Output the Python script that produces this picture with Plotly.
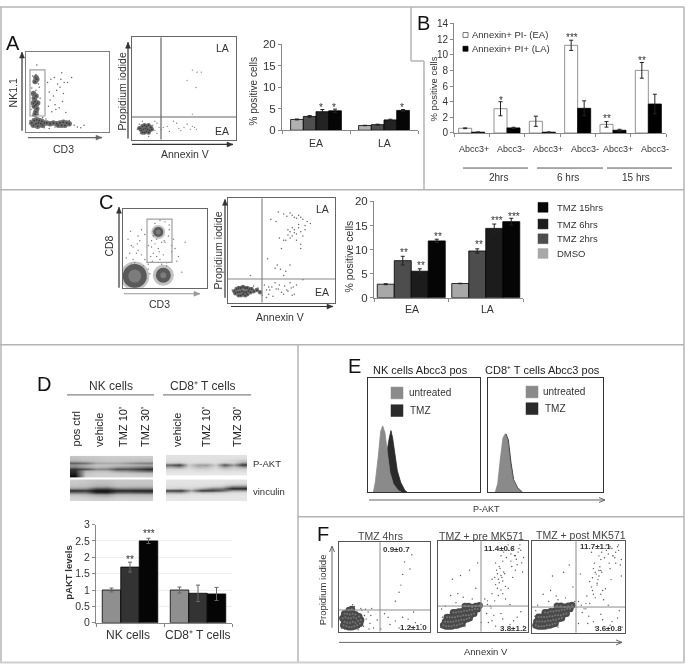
import plotly.graph_objects as go

W, H = 686, 670
FONT = "Liberation Sans"
INK = "#333333"
EDGE = "#b4b4b4"

# ---------- bar data ----------
a_groups = ["EA", "LA"]
a_vals = [[2.5, 1.1], [3.2, 1.3], [4.3, 2.4], [4.5, 4.6]]
a_errs = [[0.1, 0.05], [0.2, 0.1], [0.5, 0.15], [0.4, 0.2]]

b_groups = ["Abcc3+", "Abcc3-", "Abcc3+", "Abcc3-", "Abcc3+", "Abcc3-"]
b_ea = [0.6, 3.1, 1.5, 11.2, 1.1, 8.0]
b_la = [0.1, 0.65, 0.1, 3.15, 0.35, 3.7]
b_ea_err = [0.05, 0.9, 0.65, 0.65, 0.35, 1.0]
b_la_err = [0.03, 0.08, 0.03, 0.95, 0.12, 1.25]

c_groups = ["EA", "LA"]
c_names = ["DMSO", "TMZ 2hrs", "TMZ 6hrs", "TMZ 15hrs"]
c_vals = [[2.8, 2.95], [7.7, 9.7], [5.5, 14.4], [11.8, 15.8]]
c_errs = [[0.1, 0.05], [0.9, 0.45], [0.5, 0.9], [0.35, 0.7]]

d_groups = ["NK cells", "CD8⁺ T cells"]
d_vals = [[1.0, 1.0], [1.7, 0.9], [2.5, 0.88]]
d_errs = [[0.06, 0.09], [0.15, 0.25], [0.08, 0.2]]

# ---------- histogram data ----------
e1_un_x = [4.8, 6.5, 9.2, 11.3, 13.1, 15.2, 17.3, 19.6, 22.6, 27.1, 30]
e1_un_y = [0, 8.6, 31.7, 53.3, 58.2, 51.9, 34.6, 17.3, 7.2, 1.4, 0]
e1_tm_x = [13, 15.2, 17.3, 19, 20.5, 22, 24.1, 26.2, 29.2, 33, 35.1]
e1_tm_y = [0, 22, 37.5, 47.5, 54, 47.5, 31.7, 18.7, 8.6, 1.4, 0]
e2_un_x = [6.3, 8.4, 10.7, 13, 15, 17, 19.3, 21.6, 25, 29.4]
e2_un_y = [0, 7.2, 28.8, 47.6, 51.3, 46.1, 25.9, 11.5, 4.3, 0]
e2_tm_x = [7, 9.1, 11.4, 13.7, 15.7, 17.7, 20, 22.3, 25.7, 30]
e2_tm_y = [0, 7, 28.5, 47, 51, 46, 26, 11, 4, 0]

# ---------- flow cytometry events, percent of plot width / height ----------
a1_core_x = [7, 10, 13, 16, 19, 12, 15, 18, 22, 9, 14, 20, 25, 29, 33, 37, 41, 45, 49, 52, 43, 47, 39, 11, 12, 13, 10, 12, 9, 11, 14, 10, 12, 9, 11, 13, 12]
a1_core_y = [11, 14, 15, 14, 13, 10, 11, 10, 11, 8, 7, 8, 11, 10, 11, 10, 11, 12, 11, 10, 8, 8, 8, 22, 25, 29, 32, 34, 36, 38, 36, 42, 45, 48, 63, 66, 68]
a1_x = [8, 10, 13, 15, 7, 12, 16, 9, 14, 11, 8, 17, 13, 6, 10, 15, 12, 9, 26, 30, 34, 38, 42, 46, 28, 33, 37, 41, 45, 50, 29, 35, 40, 44, 31, 36, 27, 48, 55, 70, 43, 5, 18, 22, 28, 35, 52, 58, 62, 66, 20, 24, 13, 8]
a1_y = [70, 64, 68, 60, 55, 52, 56, 48, 44, 40, 36, 42, 30, 28, 25, 22, 72, 62, 62, 66, 68, 60, 66, 62, 50, 45, 52, 56, 48, 62, 40, 34, 30, 38, 25, 28, 32, 24, 68, 8, 74, 14, 6, 5, 4, 6, 14, 8, 6, 5, 18, 16, 84, 20]

a2_core_x = [8, 10, 12, 14, 16, 18, 9, 11, 13, 15, 17, 10, 12, 14, 16, 19, 7]
a2_core_y = [11, 13, 14, 13, 14, 12, 9, 10, 11, 10, 9, 7, 7, 8, 7, 10, 11]
a2_x = [5, 7, 8, 20, 22, 24, 26, 28, 24, 30, 34, 36, 40, 43, 45, 47, 50, 53, 56, 58, 60, 62, 58, 62.6, 66.6, 53, 61.5, 58, 22, 16, 10]
a2_y = [10, 15, 6, 14, 9, 16, 12, 10, 6, 12, 13, 8, 18, 16, 11, 9, 12, 15, 10, 13, 12, 10, 68, 66, 66, 58, 51, 25, 18, 3, 18]

c1_halo_x = [14, 48, 42]
c1_halo_y = [15, 16, 71]
c1_halo_n = [29, 21, 14]
c1_core_x = [14, 48, 42]
c1_core_y = [15, 16, 71]
c1_core_n = [24, 15, 10]
c1_mid_x = [14, 48, 42]
c1_mid_y = [15, 16, 71]
c1_mid_n = [13, 6, 5]
c1_x = [4, 8, 12, 18, 22, 26, 30, 30, 34, 36, 38, 55, 60, 62, 64, 28, 32, 6, 10, 20, 24, 12, 16, 9, 17, 36, 40, 44, 48, 52, 58, 34, 38, 42, 46, 50, 54, 36, 44, 50, 55, 40, 46, 33, 52, 30, 26, 22, 18, 14, 10, 6, 58, 66, 70, 74, 35, 43, 49]
c1_y = [38, 44, 52, 48, 42, 36, 30, 54, 60, 72, 82, 74, 62, 50, 34, 12, 18, 62, 30, 60, 28, 36, 44, 72, 56, 44, 40, 36, 42, 32, 46, 52, 56, 50, 30, 58, 66, 66, 86, 84, 80, 62, 58, 40, 28, 24, 68, 74, 66, 32, 54, 26, 54, 40, 20, 58, 34, 46, 60]

c2_core_x = [6, 8, 10, 12, 14, 16, 18, 20, 22, 7, 9, 11, 13, 15, 17, 19, 21, 24, 10, 12, 14, 16, 18, 27, 30]
c2_core_y = [11, 13, 14, 14, 15, 14, 14, 13, 13, 9, 10, 10, 11, 10, 10, 11, 10, 11, 7, 7, 8, 7, 8, 12, 10]
c2_x = [4, 6, 24, 28, 30, 32, 34, 36, 38, 41, 44, 47, 50, 53, 56, 59, 62, 64, 36, 42, 48, 55, 60, 39, 45, 52, 58, 61, 21, 38, 47, 52, 55, 58, 60, 62, 64, 66, 68, 70, 54, 56, 58, 60, 62, 64, 66, 68, 56, 58, 60, 62, 64, 66, 72, 74, 77, 72, 70, 68, 40, 45, 48, 52, 50, 46, 44, 49, 54, 52, 58, 68, 70, 37]
c2_y = [12, 8, 16, 14, 10, 7, 17, 12, 8, 15, 19, 13, 10, 16, 11, 14, 8, 17, 5, 6, 17, 12, 7, 12, 13, 8, 19, 15, 26, 15, 87, 85, 83, 86, 84, 82, 81, 84, 82, 80, 60, 65, 68, 64, 70, 66, 72, 68, 70, 62, 72, 67, 60, 75, 74, 78, 76, 70, 64, 56, 80, 78, 62, 60, 52, 36, 33, 32, 30, 26, 36, 52, 22, 42]

f1_core_x = [5, 8, 11, 14, 17, 20, 23, 6, 9, 12, 15, 18, 21, 24, 4, 7, 10, 13, 16, 19, 22, 6, 9, 12, 15, 18, 11, 14]
f1_core_y = [7, 6, 5, 5, 6, 7, 9, 11, 10, 10, 11, 10, 12, 13, 15, 16, 15, 15, 16, 15, 17, 20, 20, 19, 20, 19, 24, 25]
f1_x = [3, 5, 7, 4, 27, 30, 32, 34, 28, 36, 38, 42, 50, 56, 62, 70, 78, 84, 90, 46, 54, 66, 76, 82, 72, 80, 70, 68, 66, 78, 62, 24, 17, 10, 25, 33, 2, 6, 29, 35, 21, 15]
f1_y = [4, 20, 24, 8, 6, 14, 22, 9, 18, 26, 4, 13, 20, 8, 12, 16, 6, 10, 8, 3, 16, 4, 14, 22, 78, 86, 64, 52, 44, 70, 34, 26, 28, 26, 24, 3, 14, 3, 25, 18, 2, 30]

f2_core_x = [6, 9, 12, 15, 18, 21, 24, 27, 8, 11, 14, 17, 20, 23, 26, 29, 32, 35, 10, 13, 16, 19, 22, 25, 28, 31, 34, 37, 40, 17, 20, 23, 26, 29, 32, 35, 38, 41, 44, 30, 34, 38, 42, 46]
f2_core_y = [7, 6, 6, 6, 7, 7, 8, 9, 11, 11, 11, 11, 12, 12, 13, 13, 14, 15, 16, 16, 16, 16, 17, 17, 18, 18, 18, 19, 20, 21, 21, 22, 22, 23, 23, 24, 24, 25, 25, 28, 28, 27, 28, 29]
f2_x = [3, 5, 8, 4, 52, 55, 58, 60, 63, 66, 54, 59, 62, 64, 67, 70, 60, 63, 66, 68, 71, 73, 65, 68, 70, 72, 74, 64, 67, 69, 72, 75, 70, 73, 76, 78, 81, 83, 86, 89, 92, 95, 78, 81, 84, 87, 90, 93, 82, 85, 88, 91, 94, 72, 75, 78, 80, 83, 86, 20, 30, 16, 25, 35, 44, 56, 64, 72, 80, 88, 95, 60, 70, 84, 92, 55, 48, 38, 28, 14, 22, 42, 48, 18, 30]
f2_y = [5, 16, 28, 25, 36, 30, 28, 42, 34, 48, 20, 26, 18, 52, 40, 46, 58, 60, 64, 54, 60, 66, 68, 72, 62, 56, 64, 76, 58, 70, 78, 50, 84, 88, 82, 90, 86, 92, 84, 88, 90, 82, 96, 78, 94, 80, 92, 76, 72, 84, 74, 96, 66, 42, 36, 48, 30, 60, 68, 32, 30, 58, 62, 68, 76, 10, 6, 14, 8, 16, 6, 12, 20, 12, 22, 34, 30, 36, 38, 40, 42, 48, 10, 4, 6]

f3_core_x = [4, 7, 10, 13, 16, 19, 22, 25, 5, 8, 11, 14, 17, 20, 23, 26, 29, 32, 7, 10, 13, 16, 19, 22, 25, 28, 31, 34, 37, 14, 17, 20, 23, 26, 29, 32, 35, 38, 41, 27, 31, 35, 39, 43]
f3_core_y = [8, 7, 7, 7, 8, 8, 9, 10, 12, 12, 12, 12, 13, 13, 14, 14, 15, 16, 17, 17, 17, 17, 18, 18, 19, 19, 19, 20, 21, 22, 22, 23, 23, 24, 24, 25, 25, 26, 26, 29, 29, 28, 29, 30]
f3_x = [2, 3, 6, 4, 50, 53, 56, 59, 62, 65, 54, 58, 61, 64, 66, 68, 62, 65, 68, 70, 72, 74, 66, 69, 71, 73, 75, 67, 70, 72, 74, 76, 72, 75, 78, 80, 82, 84, 87, 90, 93, 96, 80, 83, 86, 89, 92, 95, 84, 87, 90, 93, 96, 74, 77, 79, 82, 85, 64, 18, 28, 22, 34, 40, 52, 60, 68, 76, 84, 92, 97, 66, 74, 86, 94, 58, 46, 36, 26, 12, 20, 44, 50, 16, 28]
f3_y = [6, 18, 30, 24, 34, 30, 26, 40, 32, 46, 22, 26, 18, 50, 42, 38, 56, 60, 66, 54, 62, 68, 70, 64, 58, 72, 66, 76, 52, 68, 80, 46, 84, 88, 82, 90, 86, 94, 84, 88, 90, 80, 96, 76, 92, 82, 94, 74, 70, 84, 76, 96, 62, 42, 36, 48, 30, 58, 88, 34, 36, 62, 66, 74, 64, 10, 6, 14, 8, 16, 6, 12, 20, 12, 24, 32, 34, 38, 40, 42, 46, 50, 10, 4, 6]

# ---------- blots, grey levels (0 black, 255 white) ----------
blot_pakt_left = [
    [195, 200, 200, 205, 205, 205, 205, 205],
    [190, 195, 198, 200, 200, 198, 196, 195],
    [175, 185, 195, 198, 198, 195, 190, 190],
    [95, 115, 165, 170, 170, 155, 135, 130],
    [150, 170, 195, 195, 190, 185, 175, 170],
    [130, 165, 185, 180, 160, 150, 135, 120],
    [55, 80, 135, 130, 80, 80, 65, 45],
    [45, 180, 190, 190, 155, 150, 125, 105],
    [35, 195, 205, 205, 200, 195, 190, 185],
    [20, 200, 208, 208, 208, 208, 205, 205],
    [8, 205, 210, 210, 210, 210, 210, 210],
]
blot_vinc_left = [
    [205, 200, 195, 195, 200, 200, 200, 200],
    [200, 198, 192, 190, 198, 198, 198, 198],
    [198, 195, 185, 185, 195, 195, 195, 195],
    [190, 185, 165, 160, 185, 182, 180, 180],
    [150, 145, 85, 80, 125, 130, 125, 125],
    [40, 50, 15, 15, 35, 35, 30, 30],
    [120, 120, 50, 45, 100, 105, 95, 90],
    [190, 185, 165, 160, 185, 185, 185, 182],
    [205, 200, 190, 185, 200, 200, 198, 198],
    [212, 210, 205, 205, 210, 210, 208, 208],
    [215, 212, 208, 208, 212, 212, 210, 210],
]
blot_pakt_right = [
    [225, 225, 225, 225, 225, 225, 225, 228, 225],
    [225, 225, 225, 225, 225, 225, 225, 225, 222],
    [222, 222, 224, 226, 224, 224, 220, 215, 205],
    [215, 212, 222, 220, 218, 222, 212, 215, 180],
    [170, 150, 215, 195, 190, 215, 150, 190, 95],
    [105, 70, 205, 165, 160, 205, 90, 160, 70],
    [170, 150, 215, 185, 190, 215, 165, 200, 165],
    [215, 212, 222, 212, 210, 222, 205, 212, 210],
    [225, 225, 228, 222, 222, 228, 222, 225, 222],
    [230, 230, 230, 230, 230, 230, 230, 230, 230],
    [232, 232, 232, 232, 232, 232, 232, 232, 232],
]
blot_vinc_right = [
    [228, 228, 228, 228, 228, 228, 226, 226],
    [226, 226, 226, 226, 226, 226, 222, 222],
    [225, 225, 225, 225, 222, 220, 205, 200],
    [222, 222, 222, 218, 205, 195, 130, 125],
    [205, 195, 210, 170, 125, 120, 35, 35],
    [60, 50, 160, 55, 60, 95, 165, 165],
    [170, 165, 215, 195, 200, 212, 222, 222],
    [222, 222, 226, 226, 226, 226, 228, 228],
    [228, 228, 230, 230, 230, 230, 230, 230],
    [230, 230, 230, 230, 230, 230, 230, 230],
    [230, 230, 230, 230, 230, 230, 230, 230],
]

fig = go.Figure()
layout = {}
shapes = []
annots = []
ax_n = [0]


def px(x):
    return x / W


def py(y):
    return 1 - y / H


def axes(x0, x1, y0, y1, xkw=None, ykw=None):
    ax_n[0] += 1
    i = ax_n[0]
    xk = dict(domain=[px(x0), px(x1)], anchor=f"y{i}", showgrid=False, zeroline=False)
    yk = dict(domain=[py(y1), py(y0)], anchor=f"x{i}", showgrid=False, zeroline=False)
    xk.update(xkw or {})
    yk.update(ykw or {})
    layout[f"xaxis{i}"] = xk
    layout[f"yaxis{i}"] = yk
    return f"x{i}", f"y{i}"


def text(x, y, t, size=10, color=INK, angle=0, anchor="center", bold=False):
    annots.append(dict(xref="paper", yref="paper", x=px(x), y=py(y), text=f"<b>{t}</b>" if bold else t,
                       showarrow=False, font=dict(size=size, color=color, family=FONT), textangle=angle,
                       xanchor=anchor, yanchor="middle"))


def line(x0, y0, x1, y1, color=EDGE, width=1.5):
    shapes.append(dict(type="line", xref="paper", yref="paper", x0=px(x0), y0=py(y0), x1=px(x1), y1=py(y1),
                       line=dict(color=color, width=width)))


def rect(x0, y0, x1, y1, fill="rgba(0,0,0,0)", color="#444444", width=1):
    shapes.append(dict(type="rect", xref="paper", yref="paper", x0=px(x0), y0=py(y0), x1=px(x1), y1=py(y1),
                       fillcolor=fill, line=dict(color=color, width=width)))


def arrow(x0, y0, x1, y1, color="#333333", width=1.2, filled=True):
    line(x0, y0, x1, y1, color, width)
    dx = 1 if x1 > x0 else (-1 if x1 < x0 else 0)
    dy = 1 if y1 > y0 else (-1 if y1 < y0 else 0)
    a = (x1 - 6 * dx + 2.5 * dy, y1 - 6 * dy + 2.5 * dx)
    b = (x1 - 6 * dx - 2.5 * dy, y1 - 6 * dy - 2.5 * dx)
    if filled:
        path = f"M {px(a[0])} {py(a[1])} L {px(x1)} {py(y1)} L {px(b[0])} {py(b[1])} Z"
        shapes.append(dict(type="path", xref="paper", yref="paper", path=path, fillcolor=color,
                           line=dict(color=color, width=0.5)))
    else:
        path = f"M {px(a[0])} {py(a[1])} L {px(x1)} {py(y1)} L {px(b[0])} {py(b[1])}"
        shapes.append(dict(type="path", xref="paper", yref="paper", path=path, line=dict(color=color, width=width)))


def bar_axes(x0, x1, y0, y1, ymax, dtick, n, size, grid=False):
    return axes(x0, x1, y0, y1,
                dict(type="linear", range=[-0.5, n - 0.5], tickmode="array", tickvals=[i - 0.5 for i in range(n + 1)],
                     showticklabels=False, ticks="outside", ticklen=3, tickcolor="#888888",
                     showline=True, linecolor="#888888", linewidth=1),
                dict(range=[0, ymax], dtick=dtick, ticks="outside", ticklen=3, tickcolor="#888888",
                     showline=True, linecolor="#888888", linewidth=1, showgrid=grid, gridcolor="#eeeeee",
                     tickfont=dict(size=size, color=INK, family=FONT)))


def bars(xa, ya, vals, errs, width, offset, color, edge="#000000", errcolor="#222222"):
    fig.add_trace(go.Bar(x=list(range(len(vals))), y=vals, xaxis=xa, yaxis=ya, width=width, offset=offset,
                         marker=dict(color=color, line=dict(color=edge, width=0.8)),
                         error_y=dict(type="data", array=errs, color=errcolor, thickness=1, width=2),
                         showlegend=False))


def dots(xa, ya, x, y, size=1.5, color="#666666"):
    fig.add_trace(go.Scatter(x=x, y=y, xaxis=xa, yaxis=ya, mode="markers",
                             marker=dict(size=size, color=color, line=dict(width=0)), showlegend=False))


def blobs(xa, ya, x, y, n=6, color="#6a6a6a", opacity=1.0):
    fig.add_trace(go.Scatter(x=x, y=y, xaxis=xa, yaxis=ya, mode="markers",
                             marker=dict(size=n, color=color, opacity=opacity, line=dict(width=0)), showlegend=False))


def cloud(xa, ya, x, y, n=6, base="#6e6e6e", speck="#3a3a3a", speck_size=1.8):
    blobs(xa, ya, x, y, n, color=base)
    dots(xa, ya, x, y, size=speck_size, color=speck)


def flow(x0, x1, y0, y1, color="#808080", width=1):
    box = dict(range=[0, 100], showline=True, mirror=True, linecolor=color, linewidth=width,
               showticklabels=False, ticks="")
    return axes(x0, x1, y0, y1, dict(box), dict(box))


def quad(x0, x1, y0, y1, vx, hy, color="#666666", width=1.2):
    line(vx, y0, vx, y1, color, width)
    line(x0, hy, x1, hy, color, width)


# ---------- panel frames ----------
line(0, 1, 684, 1)
line(1, 1, 1, 669)
line(411, 1, 411, 56)
line(411, 56, 424, 56)
line(424, 56, 424, 187)
line(0, 187, 684, 187)
line(0, 345, 684, 345)
line(684, 1, 684, 669)
line(298, 345, 298, 669)
line(298, 520, 684, 520)
line(0, 668.5, 684, 668.5, "#cfcfcf", 2)

for lab, lx, ly in [("A", 13, 38), ("B", 423, 17), ("C", 106, 200), ("D", 44, 385), ("E", 354, 367), ("F", 323, 538)]:
    text(lx, ly, lab, size=20, color="#111111")

# ---------- panel A ----------
xa, ya = flow(26, 109, 47, 128)
cloud(xa, ya, a1_core_x, a1_core_y, 5.5)
dots(xa, ya, a1_x, a1_y)
rect(30, 65, 45, 112, color="#a0a0a0", width=1.2)
arrow(22, 127, 22, 47)
arrow(28, 134, 102, 134, color="#666666")
text(13, 89, "NK1.1", 10.5, angle=-90)
text(63, 146, "CD3", 10.5)

xa, ya = flow(132, 236, 32, 136, color="#666666", width=1.2)
cloud(xa, ya, a2_core_x, a2_core_y, 4.5)
dots(xa, ya, a2_x, a2_y, size=1.3, color="#777777")
quad(132, 236, 32, 136, 161, 113)
arrow(128, 135, 128, 37)
arrow(132, 141, 233, 141)
text(122, 87, "Propidium iodide", 10.5, angle=-90)
text(185, 151, "Annexin V", 10.5)
text(222, 43, "LA", 10.5)
text(222, 127, "EA", 10.5)

xa, ya = bar_axes(282, 418, 38.7, 126.5, 20, 5, 2, 11.5)
shades = ["#b0b0b0", "#4f4f4f", "#232323", "#060606"]
w = 12.7 / 68
for k in range(4):
    bars(xa, ya, a_vals[k], a_errs[k], w, -2 * w + k * w, shades[k])
for i, g in enumerate(a_groups):
    text(316 + i * 68, 139, g, 10.5)
text(253, 87, "% positive cells", 10, angle=-90)
for sx, sy in [(321, 103), (334, 103), (402, 103)]:
    text(sx, sy, "*", 10)

# ---------- panel B ----------
xa, ya = bar_axes(454, 666, 17.7, 129.3, 14, 2, 6, 10)
w = 13 / 35.3
bars(xa, ya, b_ea, b_ea_err, w, -w, "#ffffff", edge="#777777")
bars(xa, ya, b_la, b_la_err, w, 0, "#000000")
for g, lx in zip(b_groups, [474, 511, 548, 585, 618, 655]):
    text(lx, 146, g, 9)
text(433, 85, "% positive cells", 9.5, angle=-90)
rect(463, 27, 468, 32, color="#555555", width=0.8)
rect(463, 41, 468, 46, fill="#000000", color="#000000", width=0.8)
text(470, 29, "Annexin+ PI- (EA)", 9.5, anchor="left")
text(470, 43, "Annexin+ PI+ (LA)", 9.5, anchor="left")
for x0, x1 in [(463, 528), (537, 603), (607, 672)]:
    line(x0, 165, x1, 165, "#555555", 1)
text(498, 175, "2hrs", 10)
text(568, 175, "6 hrs", 10)
text(636, 175, "15 hrs", 10)
for sx, sy, t in [(501, 96, "*"), (572, 32, "***"), (607, 115, "**"), (642, 55, "**")]:
    text(sx, sy, t, 10)

# ---------- panel C ----------
xa, ya = flow(123, 207, 207, 287, color="#666666", width=1.2)
blobs(xa, ya, c1_halo_x, c1_halo_y, c1_halo_n, color="#a8a8a8", opacity=0.7)
blobs(xa, ya, c1_core_x, c1_core_y, c1_core_n, color="#5a5a5a")
blobs(xa, ya, c1_mid_x, c1_mid_y, c1_mid_n, color="#7c7c7c")
dots(xa, ya, c1_x, c1_y, size=1.4, color="#777777")
rect(147, 217, 172, 261, color="#a0a0a0", width=1.2)
arrow(119, 287, 119, 205)
arrow(124, 293, 200, 293, color="#999999")
text(109, 245, "CD8", 10.5, angle=-90)
text(159, 303, "CD3", 10.5)

xa, ya = flow(228, 335, 196, 302, color="#666666", width=1.2)
cloud(xa, ya, c2_core_x, c2_core_y, 4.5)
dots(xa, ya, c2_x, c2_y, size=1.5, color="#666666")
quad(228, 335, 196, 302, 262, 278, color="#888888")
arrow(225, 297, 225, 197)
arrow(231, 306, 333, 306)
text(218, 249, "Propidium iodide", 10.5, angle=-90)
text(280, 317, "Annexin V", 10.5)
text(322, 207, "LA", 10.5)
text(322, 291, "EA", 10.5)

xa, ya = bar_axes(374, 523, 199, 297, 20, 5, 2, 11.5)
shades = ["#a8a8a8", "#4d4d4d", "#1c1c1c", "#050505"]
w = 17 / 74.5
for k in range(4):
    bars(xa, ya, c_vals[k], c_errs[k], w, -2 * w + k * w, shades[k])
for i, g in enumerate(c_groups):
    text(412 + i * 75, 309, g, 10.5)
text(349, 255, "% positive cells", 10.5, angle=-90)
for sx, sy, t in [(404, 251, "**"), (421, 264, "**"), (438, 235, "**"), (479, 243, "**"), (497, 218, "***"), (514, 214, "***")]:
    text(sx, sy, t, 10)
for k, ly in zip([3, 2, 1, 0], [205, 222, 237, 252]):
    rect(538, ly - 5, 548, ly + 5, fill=shades[k], color=shades[k], width=0.5)
    text(555, ly, c_names[k], 9.5, anchor="left")

# ---------- panel D ----------
text(111, 387, "NK cells", 12)
text(203, 387, "CD8⁺ T cells", 12)
line(67, 396, 154, 396, "#666666", 1)
line(163, 396, 251, 396, "#666666", 1)
for lab, lx in [("pos ctrl", 76), ("vehicle", 99), ("TMZ 10'", 123), ("TMZ 30'", 145),
                ("vehicle", 177), ("TMZ 10'", 206), ("TMZ 30'", 237)]:
    annots.append(dict(xref="paper", yref="paper", x=px(lx), y=py(451), text=lab, showarrow=False,
                       textangle=-90, yanchor="bottom", xanchor="center",
                       font=dict(size=11, color="#222222", family=FONT)))

GREY = [[0, "#000000"], [1, "#ffffff"]]
for mat, x0, x1, y0, y1 in [(blot_pakt_left, 70, 153, 458, 480), (blot_vinc_left, 70, 153, 482, 504),
                            (blot_pakt_right, 166, 247, 457, 478), (blot_vinc_right, 166, 247, 482, 504)]:
    xa, ya = axes(x0, x1, y0, y1, dict(visible=False), dict(visible=False, autorange="reversed"))
    fig.add_trace(go.Heatmap(z=mat, xaxis=xa, yaxis=ya, colorscale=GREY, zmin=0, zmax=255,
                             zsmooth="best", showscale=False, hoverinfo="skip"))
text(251, 466, "P-AKT", 9.5, anchor="left")
text(251, 494, "vinculin", 9.5, anchor="left")

xa, ya = bar_axes(96, 232, 528, 628, 3, 0.5, 2, 10.5, grid=True)
shades = ["#8f8f8f", "#333333", "#050505"]
w = 18.5 / 68
for k in range(3):
    bars(xa, ya, d_vals[k], d_errs[k], w, -1.5 * w + k * w, shades[k], errcolor="#666666")
for g, lx in zip(d_groups, [128, 198]):
    text(lx, 640, g, 12)
text(69, 577, "pAKT levels", 9.5, angle=-90, bold=True)
for sx, sy, t in [(130, 564, "**"), (149, 537, "***")]:
    text(sx, sy, t, 10)

# ---------- panel E ----------
HIST = dict(range=[0, 100], showline=True, mirror=True, linecolor="#333333", linewidth=1.2, showticklabels=False)
GRY, DRK = "#8a8a8a", "#2b2b2b"
for (x0, x1, tx, ty, ux, uy, title, lx, lu, lt, y1, y2) in [
    (368, 480, e1_tm_x, e1_tm_y, e1_un_x, e1_un_y, "NK cells Abcc3 pos", 397, 407, 408, 394, 412),
    (488, 603, e2_tm_x, e2_tm_y, e2_un_x, e2_un_y, "CD8⁺ T cells Abcc3 pos", 532, 541, 543, 393, 410),
]:
    xa, ya = axes(x0, x1, 379, 495, dict(HIST), dict(HIST))
    for hx, hy, col in [(tx, ty, DRK), (ux, uy, GRY)]:
        fig.add_trace(go.Scatter(x=hx, y=hy, xaxis=xa, yaxis=ya, mode="lines", fill="tozeroy", fillcolor=col,
                                 line=dict(color=col, width=0.8), showlegend=False))
    text((x0 + x1) / 2 - 3, 371, title, 11, color="#222222")
    rect(lx - 6, y1 - 6, lx + 6, y1 + 6, fill=GRY, color=GRY, width=0.5)
    rect(lx - 6, y2 - 6, lx + 6, y2 + 6, fill=DRK, color=DRK, width=0.5)
    text(lu, y1, "untreated", 10, anchor="left")
    text(lt, y2, "TMZ", 10, anchor="left")
arrow(369, 503, 605, 503, color="#666666", width=1, filled=False)
text(486, 512, "P-AKT", 9)

# ---------- panel F ----------
for (x0, x1, y0, y1, vx, hy, cx, cy, sx, sy, title, tx, ty) in [
    (339, 430, 546, 637, 380, 615, f1_core_x, f1_core_y, f1_x, f1_y, "TMZ 4hrs", 380, 540),
    (438, 528, 545, 637, 481, 611, f2_core_x, f2_core_y, f2_x, f2_y, "TMZ + pre MK571", 482, 540),
    (532, 625, 545, 638, 576, 612, f3_core_x, f3_core_y, f3_x, f3_y, "TMZ + post MK571", 581, 539),
]:
    xa, ya = flow(x0, x1, y0, y1, color="#555555", width=1.3)
    cloud(xa, ya, cx, cy, 7, base="#4a4a4a", speck="#777777", speck_size=2)
    dots(xa, ya, sx, sy, size=1.4, color="#555555")
    quad(x0, x1, y0, y1, vx, hy, color="#8c8c8c", width=1)
    text(tx, ty, title, 10.5, color="#444444")
for vx, vy, t in [(396, 553, "0.9±0.7"), (413, 633, "1.2±1.0"), (499, 552, "11.4±0.6"),
                  (513, 634, "3.8±1.2"), (595, 550, "11.7±1.1"), (608, 634, "3.6±0.8")]:
    text(vx, vy, t, 8, bold=True)
arrow(332, 633, 332, 550, color="#666666", width=1, filled=False)
arrow(339, 648, 622, 648, color="#666666", width=1, filled=False)
text(322, 595, "Propidium iodide", 9.5, angle=-90)
text(486, 657, "Annexin V", 9.5)

fig.update_layout(width=W, height=H, margin=dict(l=0, r=0, t=0, b=0), autosize=False, barmode="overlay",
                  paper_bgcolor="#ffffff", plot_bgcolor="rgba(0,0,0,0)", showlegend=False,
                  shapes=shapes, annotations=annots, font=dict(family=FONT, color=INK), **layout)
fig.write_html("out.html", config=dict(displayModeBar=False),
               post_script="document.body.style.margin='0';document.body.style.overflow='hidden';"
                           "document.querySelector('.plotly-graph-div').style.filter='blur(0.4px)';")
